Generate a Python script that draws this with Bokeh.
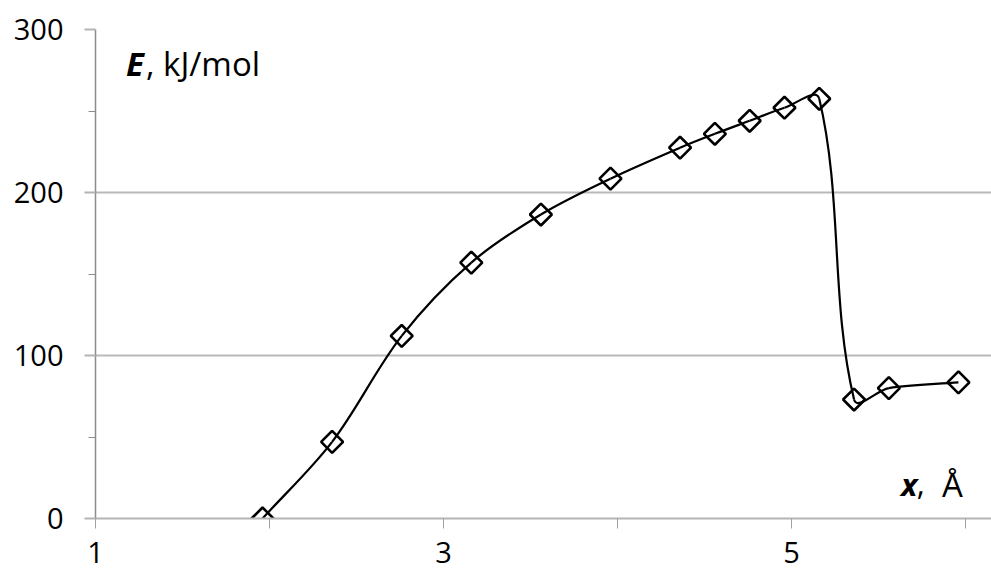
from bokeh.plotting import figure
from bokeh.models import FixedTicker, Range1d, Label
from bokeh.embed import file_html
from bokeh.resources import INLINE
import math

# data
x_vals = [1.96, 2.36, 2.76, 3.16, 3.56, 3.96, 4.36, 4.56, 4.76, 4.96, 5.16, 5.36, 5.56, 5.96]
e_vals = [0.0, 47.0, 112.0, 157.0, 186.5, 208.5, 227.5, 236.0, 244.0, 252.0, 257.5, 73.0, 80.0, 83.5]
x_ticks = [1, 2, 3, 4, 5, 6]
x_tick_labels = {2: "", 4: "", 6: ""}
y_ticks = [0, 100, 200, 300]
y_minor = [50, 150, 250]

FONT = "Open Sans"
W, H = 991, 573
X0, X1, Y0, Y1 = 1, 6.15, 0, 300
BL, BT, BB = 95, 29, 55

p = figure(width=W, height=H, output_backend="svg", toolbar_location=None,
           x_range=Range1d(X0, X1), y_range=Range1d(Y0, Y1),
           min_border_left=BL, min_border_right=0, min_border_top=BT, min_border_bottom=BB)
p.outline_line_color = None
p.background_fill_color = "white"

# smoothed line (spreadsheet-style smoothing): bezier control points derived from the data,
# tangent direction from neighbours, handle length = 1/3 of segment length in screen space
sx = (W - BL) / (X1 - X0)
sy = (H - BT - BB) / (Y1 - Y0)
n = len(x_vals)
P = [(x * sx, y * sy) for x, y in zip(x_vals, e_vals)]


def unit(a, b):
    dx, dy = b[0] - a[0], b[1] - a[1]
    d = math.hypot(dx, dy) or 1.0
    return dx / d, dy / d


x0, y0, x1, y1, cx0, cy0, cx1, cy1 = [], [], [], [], [], [], [], []
t = 1 / 3
for i in range(n - 1):
    pm = i - 1 if i > 0 else i
    pn = i + 2 if i + 2 < n else i + 1
    seg = math.hypot(P[i + 1][0] - P[i][0], P[i + 1][1] - P[i][1])
    u0 = unit(P[pm], P[i + 1])
    u1 = unit(P[i], P[pn])
    c0 = (P[i][0] + t * seg * u0[0], P[i][1] + t * seg * u0[1])
    c1 = (P[i + 1][0] - t * seg * u1[0], P[i + 1][1] - t * seg * u1[1])
    x0.append(x_vals[i]); y0.append(e_vals[i])
    x1.append(x_vals[i + 1]); y1.append(e_vals[i + 1])
    cx0.append(c0[0] / sx); cy0.append(c0[1] / sy)
    cx1.append(c1[0] / sx); cy1.append(c1[1] / sy)
p.bezier(x0=x0, y0=y0, x1=x1, y1=y1, cx0=cx0, cy0=cy0, cx1=cx1, cy1=cy1,
         line_color="black", line_width=2.2)

p.scatter(x_vals, e_vals, marker="square", size=15.5, angle=math.pi / 4,
          line_color="black", line_width=2.6, fill_alpha=0)

# axes
xa = p.xaxis[0]
xa.ticker = FixedTicker(ticks=x_ticks)
xa.major_label_overrides = x_tick_labels
xa.axis_line_color = "#b4b4b4"
xa.axis_line_width = 2
xa.major_tick_line_color = "#a0a0a0"
xa.major_tick_out = 10
xa.major_tick_in = 0
xa.minor_tick_line_color = None
xa.major_label_text_font = FONT
xa.major_label_text_font_size = "29px"
xa.major_label_text_color = "black"
xa.major_label_standoff = 13

ya = p.yaxis[0]
ya.ticker = FixedTicker(ticks=y_ticks, minor_ticks=y_minor)
ya.axis_line_color = "#8c8c8c"
ya.axis_line_width = 1.5
ya.major_tick_line_color = "#b4b4b4"
ya.major_tick_line_width = 2
ya.major_tick_out = 11
ya.major_tick_in = 0
ya.minor_tick_line_color = "#8c8c8c"
ya.minor_tick_out = 7
ya.minor_tick_in = 0
ya.major_label_text_font = FONT
ya.major_label_text_font_size = "29px"
ya.major_label_text_color = "black"
ya.major_label_standoff = 21

p.xgrid.visible = False
p.ygrid.grid_line_color = "#b9b9b9"
p.ygrid.grid_line_width = 2

# axis captions inside the plot
p.add_layout(Label(x=1.175, y=279, text="E", text_font=FONT, text_font_size="33px",
                   text_font_style="bold italic", text_color="black", text_baseline="alphabetic"))
p.add_layout(Label(x=1.29, y=279, text=", kJ/mol", text_font=FONT, text_font_size="33px",
                   text_color="black", text_baseline="alphabetic"))
p.add_layout(Label(x=5.63, y=21, text="x", text_font=FONT, text_font_size="31px",
                   text_font_style="bold italic", text_color="black", text_baseline="alphabetic"))
p.add_layout(Label(x=5.72, y=21, text=",", text_font=FONT, text_font_size="31px",
                   text_color="black", text_baseline="alphabetic"))
p.add_layout(Label(x=5.865, y=21, text="Å", text_font=FONT, text_font_size="33px",
                   text_color="black", text_baseline="alphabetic"))

open("out.html", "w").write(file_html(p, INLINE))
